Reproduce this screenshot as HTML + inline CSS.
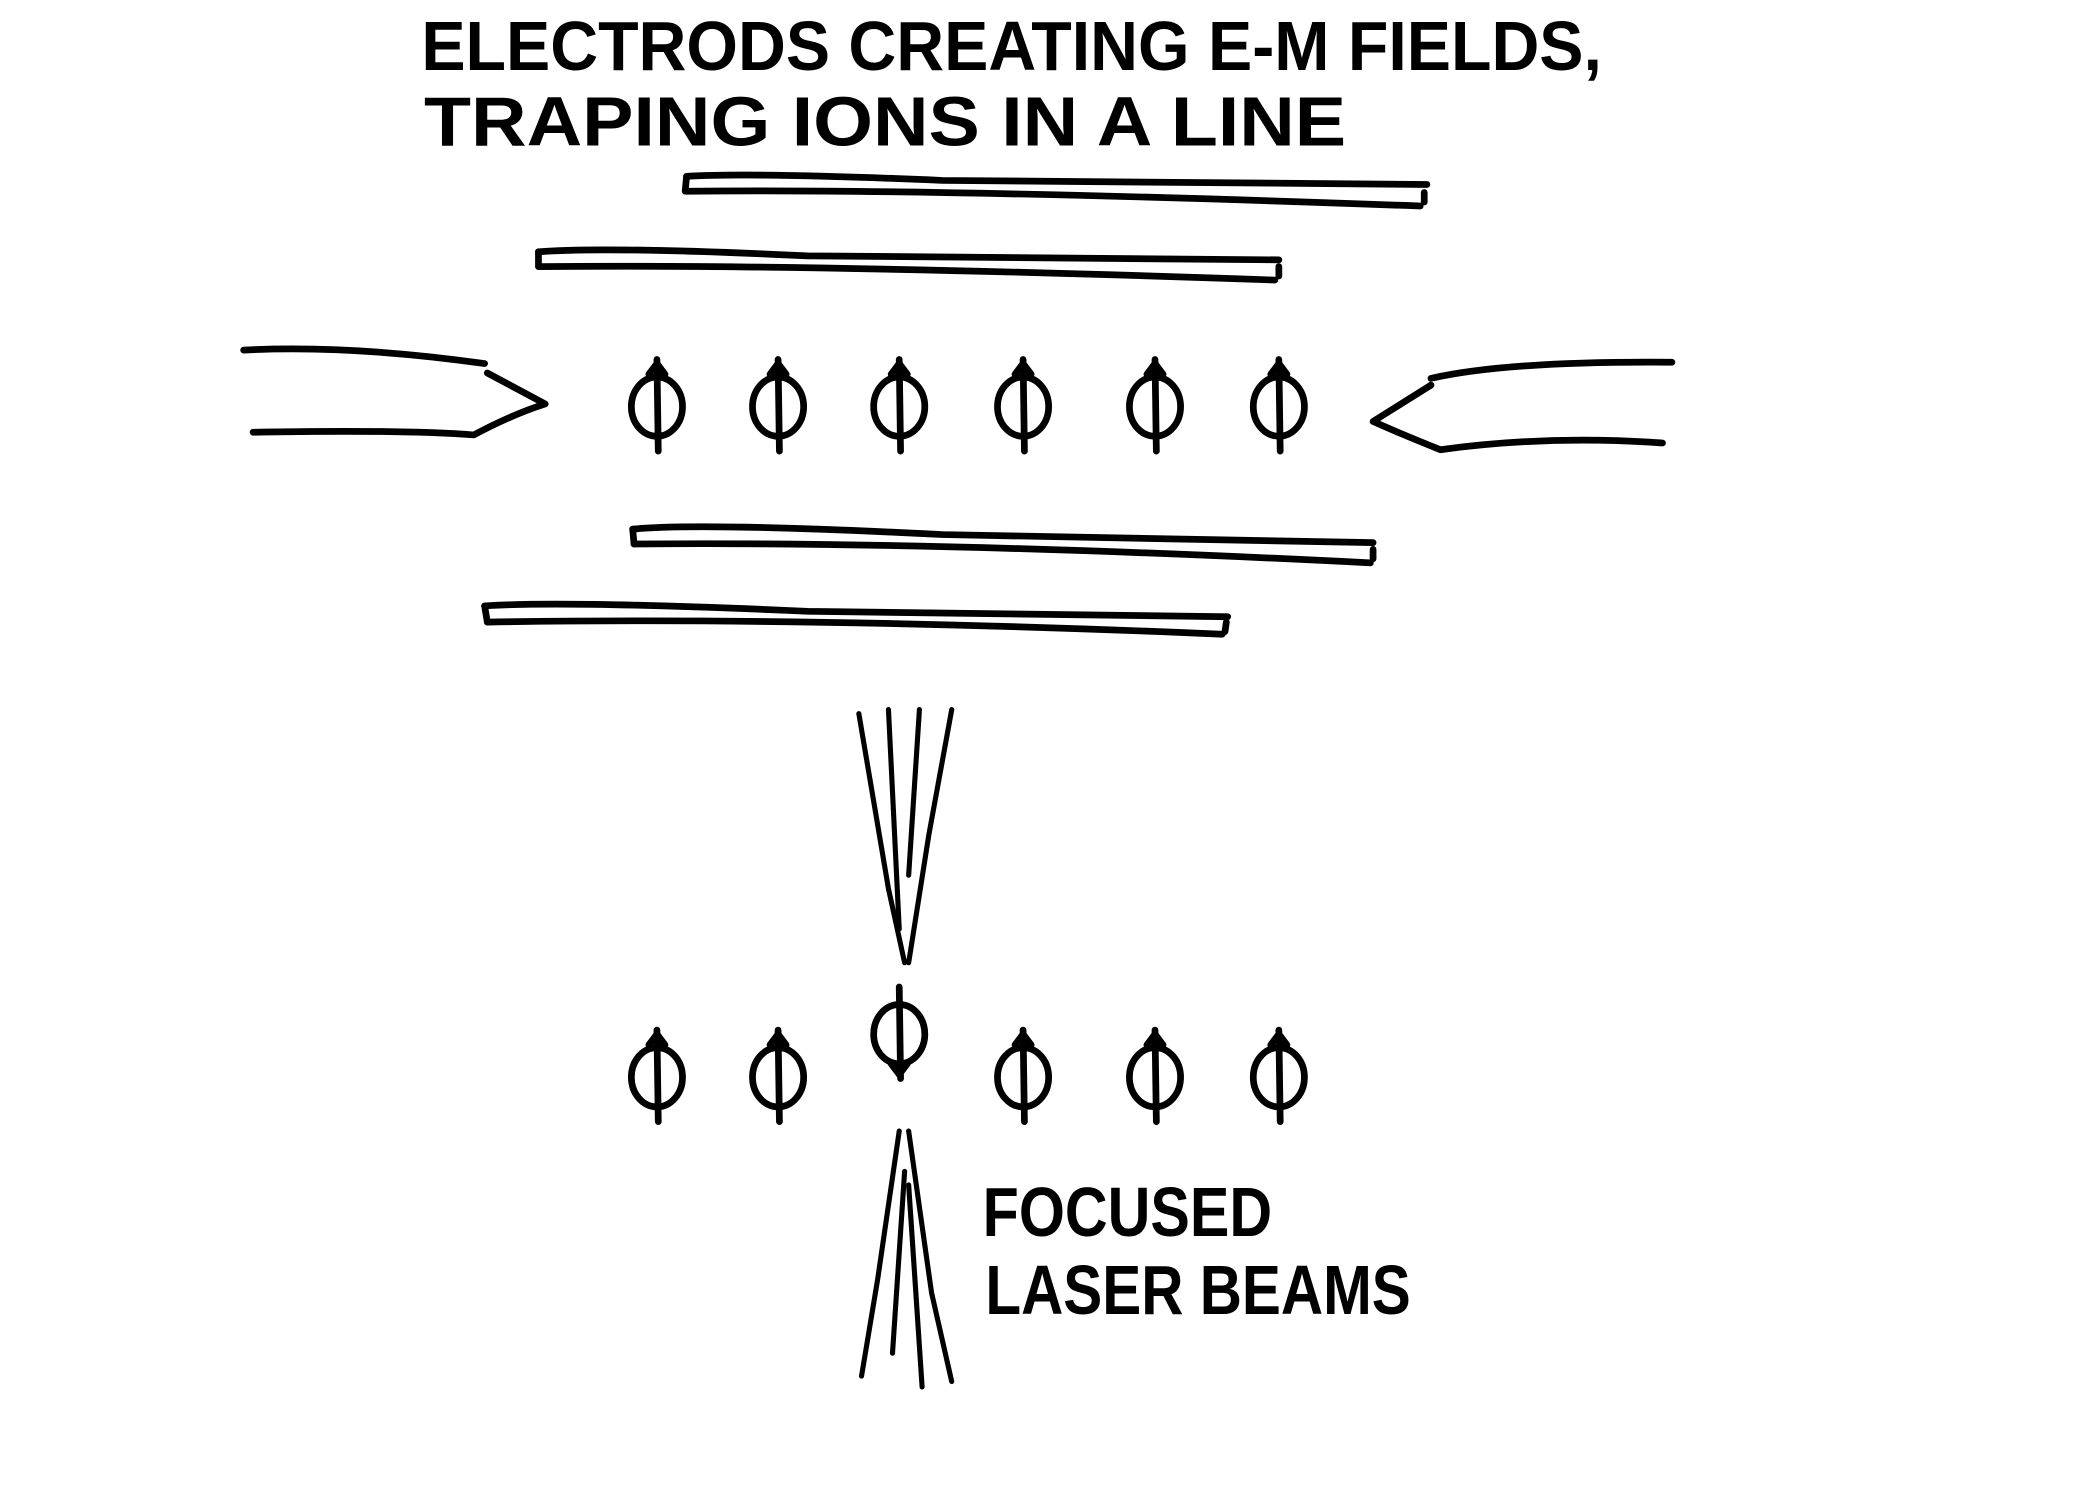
<!DOCTYPE html>
<html><head><meta charset="utf-8"><style>
html,body{margin:0;padding:0;background:#fff;}
svg{display:block;}
text{font-family:"Liberation Sans",sans-serif;font-weight:bold;fill:#000;}
</style></head><body>
<svg id="s" width="2100" height="1500" viewBox="0 0 1560 1114" preserveAspectRatio="none" xmlns="http://www.w3.org/2000/svg">
<rect width="1560" height="1114" fill="#fff"/>
<g>
<text x="313" y="52" font-size="52" textLength="877" lengthAdjust="spacingAndGlyphs">ELECTRODS CREATING E-M FIELDS,</text>
<text x="315" y="108" font-size="52" textLength="685" lengthAdjust="spacingAndGlyphs">TRAPING IONS IN A LINE</text>
</g>
<g fill="none" stroke="#000" stroke-width="5" stroke-linecap="round" stroke-linejoin="round">
<g><path d="M510 131 Q560 128 700 134 L1060 137"/><path d="M510 142 Q700 140 1055 153"/><path d="M510 131 L509 142"/><path d="M1058 143 L1058 150"/></g>
<g><path d="M400 187 Q450 183 600 190 L950 193"/><path d="M401 198 Q600 196 947 208"/><path d="M400 187 L400 198"/><path d="M950 198 L950 205"/></g>
<g><path d="M470 393 Q520 388 700 397 L1020 403"/><path d="M471 404 Q700 402 1018 418"/><path d="M470 393 L471 404"/><path d="M1020 408 L1020 415"/></g>
<g><path d="M360 450 Q420 446 600 454 L912 458"/><path d="M362 462 Q600 458 908 471"/><path d="M360 450 L362 462"/><path d="M911 462 L910 469"/></g>
<g><path d="M181 260 Q260 256 360 270"/><path d="M362 277 L405 300 Q380 308 352 323 Q300 319 188 321"/></g>
<g><path d="M1063 281 Q1120 268 1242 269"/><path d="M1063 286 L1020 313 Q1040 322 1070 334 Q1150 323 1235 329"/></g>
<g id="ions"></g>
<g stroke-width="3.8"><path d="M638 530 L660 660 L672 715"/><path d="M660 527 L668 690"/><path d="M683 527 L675 650"/><path d="M707 527 L690 620 L675 715"/></g>
<g stroke-width="3.8"><path d="M668 840 L652 950 L640 1022"/><path d="M675 840 L692 960 L707 1026"/><path d="M672 870 L663 1005"/><path d="M675 880 L685 1030"/></g>
</g>
<text x="730" y="918" font-size="52" textLength="215" lengthAdjust="spacingAndGlyphs">FOCUSED</text>
<text x="732" y="976" font-size="52" textLength="316" lengthAdjust="spacingAndGlyphs">LASER BEAMS</text>
</svg>
<script>
const ionX=[488,578,668,760,858,950];
const row1Y=[302,302,302,302,302,302];
const row2Y=[800,800,768,800,800,800];
const row2Up=[1,1,0,1,1,1];
const g=document.getElementById('ions');
const NS='http://www.w3.org/2000/svg';
function ion(x,y,up,row,i){
  const e=document.createElementNS(NS,'g');
  
  
  e.setAttribute('data-row',row);e.setAttribute('data-index',i);
  const c=document.createElementNS(NS,'ellipse');
  c.setAttribute('cx',x);c.setAttribute('cy',y);c.setAttribute('rx',19);c.setAttribute('ry',22);
  e.appendChild(c);
  const l=document.createElementNS(NS,'path');
  l.setAttribute('d','M'+x+' '+(y-35)+' L'+(x+1)+' '+(y+33));
  e.appendChild(l);
  const a=document.createElementNS(NS,'path');
  if(up){a.setAttribute('d','M'+(x-6)+' '+(y-24)+' L'+x+' '+(y-32)+' L'+(x+6)+' '+(y-24));}
  else{a.setAttribute('d','M'+(x-6)+' '+(y+22)+' L'+x+' '+(y+30)+' L'+(x+6)+' '+(y+22));}
  e.appendChild(a);
  g.appendChild(e);
}
ionX.forEach((x,i)=>ion(x,row1Y[i],1,1,i));
ionX.forEach((x,i)=>ion(x,row2Y[i],row2Up[i],2,i));
</script>
</body></html>
